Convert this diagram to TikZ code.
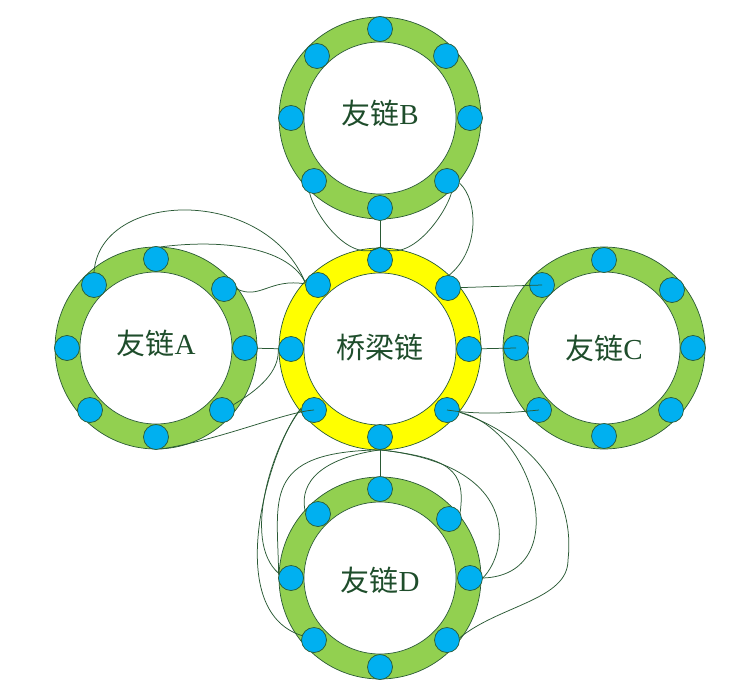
\documentclass[tikz,border=0pt]{standalone}
\usepackage{fontspec}
\setmainfont{Liberation Serif}
\newfontfamily\cjk{Noto Sans CJK SC}
\definecolor{ringgreen}{HTML}{92D050}
\definecolor{bridgeyellow}{HTML}{FFFF00}
\definecolor{dotblue}{HTML}{00B0F0}
\definecolor{edgegreen}{HTML}{2A5A35}
\definecolor{textgreen}{HTML}{1E4D2B}
\begin{document}
\begin{tikzpicture}[x=1pt,y=-1pt,
  ringline/.style={draw=edgegreen, line width=0.7pt},
  dot/.style={circle, draw=edgegreen, line width=0.7pt, fill=dotblue, minimum size=25pt, inner sep=0pt},
  link/.style={draw=edgegreen, line width=0.75pt},
  ringtext/.style={text=textgreen, font=\fontsize{29}{29}\selectfont, inner sep=0pt}]
\useasboundingbox (0,0) rectangle (749,698);
\fill[white] (0,0) rectangle (749,698);
% ring centres
\coordinate (A) at (156,348);
\coordinate (B) at (380,118);
\coordinate (Br) at (380,349);
\coordinate (C) at (604,348);
\coordinate (D) at (380,578);
% rings
\foreach \r in {A,B,C,D}{
  \filldraw[ringline, fill=ringgreen] (\r) circle[radius=101pt];
  \filldraw[ringline, fill=white] (\r) circle[radius=76pt];
}
\filldraw[ringline, fill=bridgeyellow] (Br) circle[radius=101pt];
\filldraw[ringline, fill=white] (Br) circle[radius=76pt];
% dots
\foreach \nm/\x/\y in {
  Br-n/380/260, Br-ne/448/288, Br-e/469/349, Br-se/447/410, Br-s/380/437, Br-sw/314/410, Br-w/291/349, Br-nw/318/285,
  A-n/156/259, A-ne/224/289, A-e/245/348, A-se/222/410, A-s/156/437, A-sw/90/410, A-w/67/348, A-nw/94/285,
  B-n/380/29, B-ne/446/56, B-e/470/118, B-se/447/181, B-s/380/208, B-sw/314/181, B-w/291/118, B-nw/317/56,
  C-n/604/260, C-ne/672/290, C-e/693/348, C-se/671/410, C-s/604/436, C-sw/539/410, C-w/516/348, C-nw/542/285,
  D-n/380/489, D-ne/449/519, D-e/470/578, D-se/447/640, D-s/380/667, D-sw/314/640, D-w/291/578, D-nw/318/514}{
  \node[dot] (\nm) at (\x,\y) {};
}
% straight links
\draw[link] (B-s) -- (Br-n);
\draw[link] (A-e) -- (Br-w);
\draw[link] (Br-e) -- (C-w.center);
\draw[link] (Br-s) -- (D-n);
\draw[link] (Br-ne) -- (C-nw.center);
\draw[link] (Br-se.center) .. controls (480,415) and (510,413) .. (C-sw.center);
% B to bridge
\draw[link] (B-sw.-110) .. controls (315,215) and (350,265) .. (Br-n.north);
\draw[link] (B-se.-70) .. controls (445,215) and (410,265) .. (Br-n.north);
\draw[link] (B-se.-10) .. controls (478,200) and (480,250) .. (Br-ne.85);
% A to bridge
\draw[link] (A-nw.north) .. controls (100,190) and (265,185) .. (Br-nw.170);
\draw[link] (A-n.70) .. controls (230,238) and (290,250) .. (Br-nw.170);
\draw[link] (A-ne.east) .. controls (260,300) and (270,278) .. (Br-nw.175);
\draw[link] (A-se.25) .. controls (258,390) and (280,372) .. (Br-w.178);
\draw[link] (A-s.-70) .. controls (220,440) and (285,412) .. (Br-sw.center);
% bridge to D
\draw[link] (Br-sw.175) .. controls (275,440) and (240,540) .. (D-w.160);
\draw[link] (Br-sw.170) .. controls (270,445) and (220,610) .. (D-sw.160);
\draw[link] (Br-s.south) .. controls (260,452) and (278,500) .. (D-w.165);
\draw[link] (Br-s.south) .. controls (310,460) and (300,490) .. (D-nw.170);
\draw[link] (Br-s.south) .. controls (450,458) and (466,470) .. (D-ne.30);
\draw[link] (Br-s.south) .. controls (520,465) and (510,550) .. (D-e.east);
\draw[link] (Br-se.-10) .. controls (535,430) and (575,575) .. (D-e.east);
\draw[link] (Br-se.-10) .. controls (540,440) and (575,500) .. (568,560)
  .. controls (568,600) and (500,605) .. (D-se.10);
% labels
\node[ringtext] (tA) at (156,343) {{\cjk 友链}A};
\node[ringtext] (tB) at (380,113) {{\cjk 友链}B};
\node[ringtext] (tC) at (604,348) {{\cjk 友链}C};
\node[ringtext] (tD) at (380,580) {{\cjk 友链}D};
\node[ringtext] (tBr) at (380,348) {\cjk 桥梁链};
\end{tikzpicture}
\end{document}
